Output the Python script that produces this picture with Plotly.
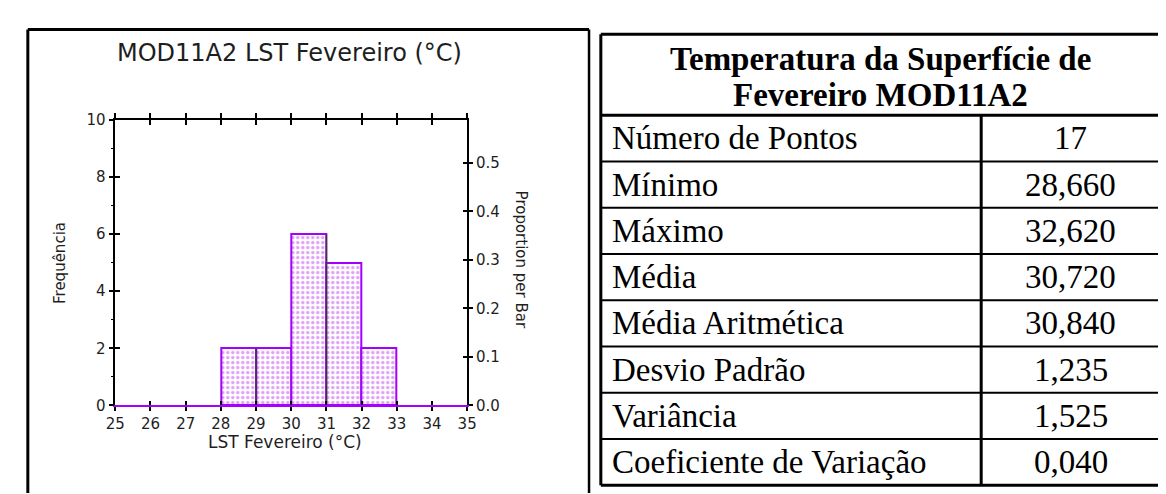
import plotly.graph_objects as go

# ---------------- data ----------------
bin_edges = [28, 29, 30, 31, 32, 33]
counts = [2, 2, 6, 5, 2]
x_range = [25, 35]
freq_range = [0, 10]
dark_edges = [29, 31]

chart_title = "MOD11A2 LST Fevereiro (°C)"
x_title = "LST Fevereiro (°C)"
y_title = "Frequência"
y2_title = "Proportion per Bar"

table_header = ["Temperatura da Superfície de", "Fevereiro MOD11A2"]
stat_labels = ["Número de Pontos", "Mínimo", "Máximo", "Média", "Média Aritmética",
               "Desvio Padrão", "Variância", "Coeficiente de Variação"]
stat_values = ["17", "28,660", "32,620", "30,720", "30,840", "1,235", "1,525", "0,040"]

# ---------------- layout helpers ----------------
W, H = 1166, 494


def px(x):
    return x / W


def py(y):
    return 1 - y / H


PURPLE = "#a400ff"
DOT = "#c040ee"
SANS = "DejaVu Sans"
SERIF = "Liberation Serif"
TXT = "#1e1e1e"

total = sum(counts)
centers = [(bin_edges[i] + bin_edges[i + 1]) / 2 for i in range(len(counts))]
widths = [bin_edges[i + 1] - bin_edges[i] for i in range(len(counts))]

fig = go.Figure()

fig.add_trace(go.Bar(
    x=centers, y=counts, width=widths,
    marker=dict(color="white", line=dict(color=PURPLE, width=2),
                pattern=dict(shape=".", fgcolor=DOT, bgcolor="white", size=5, solidity=0.35)),
    xaxis="x", yaxis="y", showlegend=False, hoverinfo="skip"))

for e in dark_edges:
    idx = bin_edges.index(e) - 1
    fig.add_trace(go.Scatter(x=[e, e], y=[0, counts[idx]], mode="lines",
                             line=dict(color="#3a3a3a", width=1.5),
                             xaxis="x", yaxis="y", showlegend=False, hoverinfo="skip"))

# dummy traces so overlay axes are drawn
for xa, ya in [("x2", "y3"), ("x3", "y2"), ("x4", "y4")]:
    fig.add_trace(go.Scatter(x=[None], y=[None], xaxis=xa, yaxis=ya,
                             showlegend=False, hoverinfo="skip"))

tickfont = dict(family=SANS, size=15, color=TXT)
prop_range = [0, freq_range[1] / total]

common_x = dict(range=x_range, tickmode="linear", tick0=x_range[0], dtick=1,
                showgrid=False, zeroline=False, fixedrange=True)
common_y = dict(range=freq_range, tickmode="linear", tick0=0, dtick=2,
                showgrid=False, zeroline=False, fixedrange=True)
common_p = dict(range=prop_range, tickmode="linear", tick0=0, dtick=0.1,
                showgrid=False, zeroline=False, fixedrange=True)

fig.update_layout(
    width=W, height=H, autosize=False,
    margin=dict(l=0, r=0, t=0, b=0),
    paper_bgcolor="white", plot_bgcolor="white",
    bargap=0,
    xaxis=dict(domain=[px(99), px(457)], anchor="y", ticks="outside", ticklen=4,
               tickwidth=1.5, tickcolor="black", showline=True, linecolor=PURPLE,
               linewidth=2, tickfont=tickfont, **common_x),
    xaxis2=dict(overlaying="x", anchor="y", side="bottom", ticks="inside", ticklen=4,
                tickwidth=1.5, tickcolor="black", showticklabels=False, showline=False,
                **common_x),
    xaxis3=dict(overlaying="x", anchor="y", side="top", ticks="outside", ticklen=5,
                tickwidth=1.5, tickcolor="black", showticklabels=False, showline=True,
                linecolor="black", linewidth=1.5, **common_x),
    xaxis4=dict(overlaying="x", anchor="y", side="top", ticks="inside", ticklen=5,
                tickwidth=1.5, tickcolor="black", showticklabels=False, showline=False,
                **common_x),
    yaxis=dict(domain=[py(403), py(107)], anchor="x", ticks="outside", ticklen=5,
               tickwidth=1.5, tickcolor="black", showline=True, linecolor="black",
               linewidth=1.5, tickfont=tickfont,
               minor=dict(dtick=1, ticks="outside", ticklen=3, tickwidth=1.2, tickcolor="black"),
               **common_y),
    yaxis3=dict(overlaying="y", anchor="x", side="left", ticks="inside", ticklen=5,
                tickwidth=1.5, tickcolor="black", showticklabels=False, showline=False,
                **common_y),
    yaxis2=dict(overlaying="y", anchor="x", side="right", ticks="outside", ticklen=4,
                tickwidth=1.5, tickcolor="black", showline=True, linecolor="black",
                linewidth=1.5, tickformat=".1f", tickfont=tickfont, **common_p),
    yaxis4=dict(overlaying="y", anchor="x", side="right", ticks="inside", ticklen=4,
                tickwidth=1.5, tickcolor="black", showticklabels=False, showline=False,
                **common_p),
)

ann = []


def add_text(x, y, text, size, family, xanchor="center", angle=0, bold=False, color=TXT):
    ann.append(dict(x=px(x), y=py(y), xref="paper", yref="paper", text=(f"<b>{text}</b>" if bold else text),
                    showarrow=False, xanchor=xanchor, yanchor="middle", textangle=angle,
                    font=dict(family=family, size=size, color=color)))


add_text(276, 37, chart_title, 24, SANS)
add_text(272, 441, x_title, 17, SANS)
add_text(42, 255, y_title, 15, SANS, angle=-90)
add_text(512, 252, y2_title, 15, SANS, angle=90)

# ---------------- table ----------------
T_L, T_R, T_T, T_B = 593, 1162, 18, 486
HDR_B = 102
COL = 980
row_h = (T_B - HDR_B) / len(stat_labels)

add_text((T_L + T_R) / 2, 44, table_header[0], 33, SERIF, bold=True, color="black")
add_text((T_L + T_R) / 2, 81, table_header[1], 33, SERIF, bold=True, color="black")
for i, (lab, val) in enumerate(zip(stat_labels, stat_values)):
    yc = HDR_B + row_h * (i + 0.5)
    add_text(T_L + 9, yc, lab, 33, SERIF, xanchor="left", color="black")
    add_text((COL + T_R) / 2, yc, val, 33, SERIF, color="black")

shapes = []


def line(x0, y0, x1, y1, w):
    shapes.append(dict(type="line", xref="paper", yref="paper", x0=px(x0), y0=py(y0),
                       x1=px(x1), y1=py(y1), line=dict(color="black", width=w)))


# left panel frame
line(10, 13, 581, 13, 3)
line(10, 13, 10, H, 3)
line(581, 13, 581, H, 2.5)
# table frame
line(T_L, T_T, T_R, T_T, 3)
line(T_L, T_B, T_R, T_B, 3)
line(T_L, T_T, T_L, T_B, 3)
line(T_R, T_T, T_R, T_B, 3)
line(T_L, HDR_B, T_R, HDR_B, 3)
line(COL, HDR_B, COL, T_B, 3)
for i in range(1, len(stat_labels)):
    yy = HDR_B + row_h * i
    line(T_L, yy, T_R, yy, 2)

fig.update_layout(annotations=ann, shapes=shapes)

fig.write_html("out.html")
